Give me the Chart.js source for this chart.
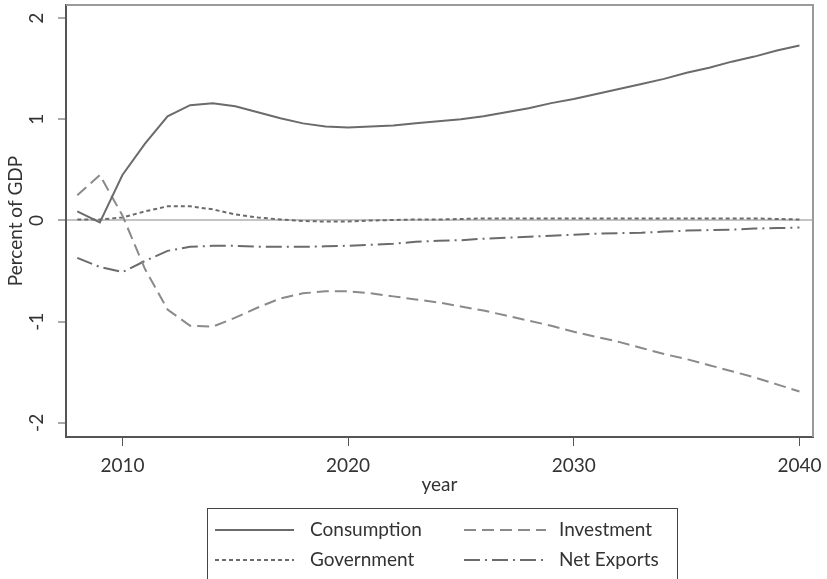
<!DOCTYPE html>
<html>
<head>
<meta charset="utf-8">
<script src="https://cdn.jsdelivr.net/npm/chart.js@4.4.1/dist/chart.umd.min.js"></script>
<style>
  html, body { margin: 0; padding: 0; background: #fff; }
</style>
</head>
<body>
<canvas id="chart" width="827" height="579"></canvas>
<script>
// yearly values, percent of GDP
const years = [2008, 2009, 2010, 2011, 2012, 2013, 2014, 2015, 2016, 2017, 2018,
  2019, 2020, 2021, 2022, 2023, 2024, 2025, 2026, 2027, 2028, 2029,
  2030, 2031, 2032, 2033, 2034, 2035, 2036, 2037, 2038, 2039, 2040];

const consumption = [0.09, -0.02, 0.45, 0.76, 1.03, 1.14, 1.16, 1.13, 1.07, 1.01, 0.96,
  0.93, 0.92, 0.93, 0.94, 0.96, 0.98, 1.00, 1.03, 1.07, 1.11, 1.16,
  1.20, 1.25, 1.30, 1.35, 1.40, 1.46, 1.51, 1.57, 1.62, 1.68, 1.73];

const investment = [0.25, 0.45, 0.05, -0.48, -0.88, -1.04, -1.05, -0.96, -0.86, -0.77, -0.72,
  -0.70, -0.70, -0.72, -0.75, -0.78, -0.81, -0.85, -0.89, -0.94, -0.99, -1.04,
  -1.10, -1.15, -1.20, -1.26, -1.32, -1.37, -1.43, -1.49, -1.55, -1.62, -1.69];

const government = [0.01, 0.01, 0.03, 0.09, 0.14, 0.14, 0.11, 0.06, 0.03, 0.01, -0.005,
  -0.01, -0.01, 0.0, 0.005, 0.01, 0.01, 0.015, 0.02, 0.02, 0.02, 0.02,
  0.02, 0.02, 0.02, 0.02, 0.02, 0.02, 0.02, 0.02, 0.02, 0.015, 0.01];

const netExports = [-0.37, -0.46, -0.51, -0.40, -0.30, -0.26, -0.25, -0.25, -0.26, -0.26, -0.26,
  -0.255, -0.25, -0.24, -0.23, -0.21, -0.20, -0.195, -0.18, -0.17, -0.16, -0.15,
  -0.14, -0.13, -0.125, -0.12, -0.11, -0.10, -0.095, -0.09, -0.08, -0.075, -0.07];

const xTicks = [2010, 2020, 2030, 2040];
const yTicks = [-2, -1, 0, 1, 2];

const FONT = 'Lato';
const pts = arr => years.map((yr, i) => ({ x: yr, y: arr[i] }));

// grey frame on top/right, like the original graph box
const frame = {
  id: 'frame',
  beforeDatasetsDraw(chart) {
    const { ctx, chartArea: a } = chart;
    ctx.save();
    ctx.strokeStyle = '#9a9a9a';
    ctx.lineWidth = 2;
    ctx.beginPath();
    ctx.moveTo(a.left, a.top);
    ctx.lineTo(a.right, a.top);
    ctx.lineTo(a.right, a.bottom);
    ctx.stroke();
    ctx.restore();
  }
};

// legend box under the axis title, 2 columns
const legendBox = {
  id: 'legendBox',
  afterDraw(chart) {
    const ctx = chart.ctx;
    ctx.save();
    ctx.strokeStyle = '#444';
    ctx.lineWidth = 1;
    ctx.strokeRect(207.5, 508.5, 470, 80);
    const cols = [[215, 294, 310], [464, 546, 559]];
    const rows = [530, 560];
    chart.data.datasets.forEach((ds, i) => {
      const [x0, x1, tx] = cols[i % 2];
      const y = rows[Math.floor(i / 2)];
      ctx.strokeStyle = ds.borderColor;
      ctx.lineWidth = ds.borderWidth;
      ctx.setLineDash(ds.borderDash || []);
      ctx.beginPath();
      ctx.moveTo(x0, y);
      ctx.lineTo(x1, y);
      ctx.stroke();
      ctx.setLineDash([]);
      ctx.fillStyle = '#333';
      ctx.font = `19px ${FONT}`;
      ctx.textBaseline = 'middle';
      ctx.textAlign = 'left';
      ctx.fillText(ds.label, tx, y);
    });
    ctx.restore();
  }
};

const line = (label, data, color, dash) => ({
  label, data: pts(data),
  borderColor: color, borderWidth: 2, borderDash: dash,
  pointRadius: 0, tension: 0, fill: false
});

new Chart(document.getElementById('chart'), {
  type: 'line',
  data: {
    datasets: [
      line('Consumption', consumption, '#6b6b6b', []),
      line('Investment', investment, '#8a8a8a', [12, 6]),
      line('Government', government, '#6b6b6b', [4, 3]),
      line('Net Exports', netExports, '#6b6b6b', [16, 5, 2, 5])
    ]
  },
  options: {
    responsive: false,
    animation: false,
    devicePixelRatio: 1,
    layout: { padding: { top: 5, right: 14, left: 0, bottom: 0 } },
    plugins: { legend: { display: false }, tooltip: { enabled: false } },
    scales: {
      x: {
        type: 'linear',
        min: 2007.5,
        max: 2040.6,
        afterBuildTicks: s => { s.ticks = xTicks.map(v => ({ value: v })); },
        afterFit: s => { s.height = 142; s.paddingLeft = 0; s.paddingRight = 0; },
        grid: { display: true, drawOnChartArea: false, tickLength: 9, tickColor: '#555', tickWidth: 1 },
        border: { color: '#555', width: 2 },
        ticks: { color: '#333', font: { family: FONT, size: 19 }, padding: 8, callback: v => String(v) },
        title: { display: true, text: 'year', color: '#333', font: { family: FONT, size: 19 }, padding: { top: 0, bottom: 83 } }
      },
      y: {
        min: -2.14,
        max: 2.13,
        afterBuildTicks: s => { s.ticks = yTicks.map(v => ({ value: v })); },
        afterFit: s => { s.width = 66; s.paddingTop = 0; s.paddingBottom = 0; },
        grid: {
          color: c => (c.tick && c.tick.value === 0 ? '#c4c4c4' : 'rgba(0,0,0,0)'),
          lineWidth: 2,
          tickLength: 8,
          tickColor: '#555',
          tickWidth: 1
        },
        border: { color: '#555', width: 2 },
        ticks: {
          color: '#333', font: { family: FONT, size: 19 }, padding: 12,
          minRotation: 90, maxRotation: 90, align: 'center', crossAlign: 'center',
          callback: v => String(v)
        },
        title: { display: true, text: 'Percent of GDP', color: '#333', font: { family: FONT, size: 19 }, padding: { top: 4, bottom: 0 } }
      }
    }
  },
  plugins: [frame, legendBox]
});
</script>
</body>
</html>
